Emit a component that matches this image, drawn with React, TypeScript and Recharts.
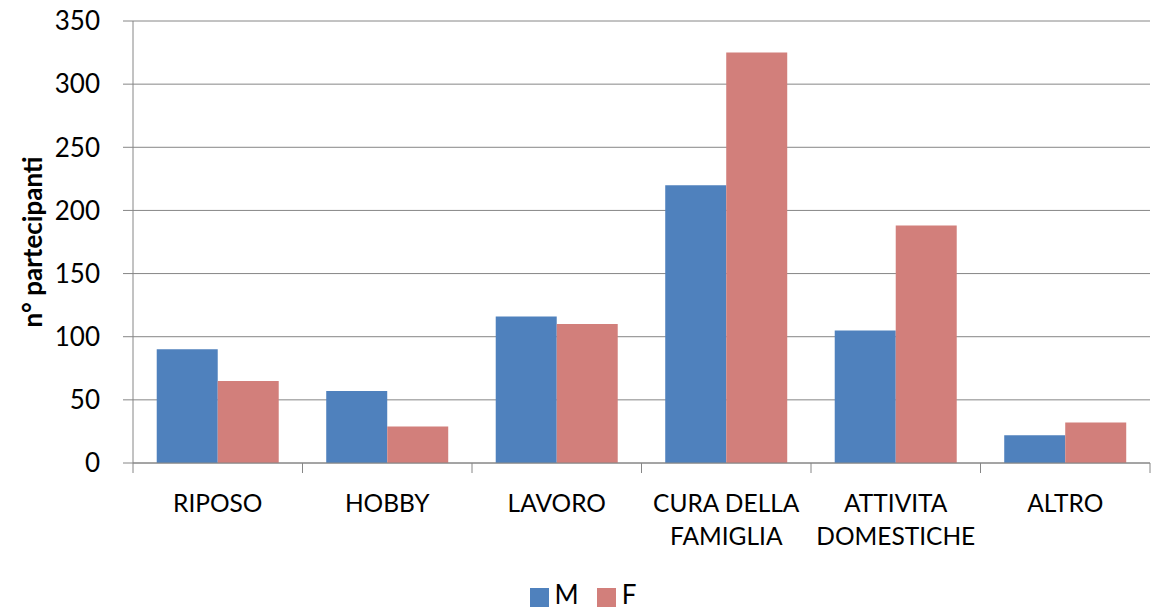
import React from 'react';
import { BarChart, Bar, XAxis, YAxis, CartesianGrid, Legend } from 'recharts';

const categories = ['RIPOSO', 'HOBBY', 'LAVORO', 'CURA DELLA\nFAMIGLIA', 'ATTIVITA\nDOMESTICHE', 'ALTRO'];
const maleValues = [90, 57, 116, 220, 105, 22];
const femaleValues = [65, 29, 110, 325, 188, 32];
const yTicks = [0, 50, 100, 150, 200, 250, 300, 350];

const series = [
  { key: 'M', color: '#4F81BD' },
  { key: 'F', color: '#D27F7B' },
];

const data = categories.map((c, i) => ({ name: c, M: maleValues[i], F: femaleValues[i] }));

const FONT = 'Lato, "Liberation Sans", sans-serif';
const W = 1153;
const H = 609;
const PLOT_LEFT = 133;
const PLOT_RIGHT = 3;
const BAND = (W - PLOT_LEFT - PLOT_RIGHT) / categories.length;

const CategoryTick = (props: any) => {
  const { x, y, payload, index } = props;
  const lines = String(payload.value).split('\n');
  const left = x - BAND / 2;
  return (
    <g>
      <line x1={left} x2={left} y1={y} y2={y + 10} stroke="#868686" />
      {index === categories.length - 1 && (
        <line x1={x + BAND / 2} x2={x + BAND / 2} y1={y} y2={y + 10} stroke="#868686" />
      )}
      <text x={x} y={y} textAnchor="middle" fontFamily={FONT} fontSize={24.5} fill="#000">
        {lines.map((l, i) => (
          <tspan key={i} x={x} dy={i === 0 ? 49 : 33}>{l}</tspan>
        ))}
      </text>
    </g>
  );
};

const LegendContent = () => (
  <div style={{ display: 'flex', justifyContent: 'center', alignItems: 'center', fontFamily: FONT, fontSize: 26, color: '#000', height: 30, paddingLeft: 34 }}>
    {series.map((s) => (
      <div key={s.key} style={{ display: 'flex', alignItems: 'center', marginRight: 18 }}>
        <div style={{ width: 19, height: 19, background: s.color, marginRight: 6, marginTop: 6 }} />
        <span>{s.key}</span>
      </div>
    ))}
  </div>
);

const App: React.FC = () => {
  return (
    <div style={{ position: 'absolute', left: 0, top: 0, width: W, height: H, background: '#fff' }}>
      <BarChart
        width={W}
        height={H}
        data={data}
        margin={{ top: 21, right: PLOT_RIGHT, left: 0, bottom: 0 }}
        barCategoryGap="14%"
        barGap={0}
        style={{ fontFamily: FONT }}
      >
        <CartesianGrid vertical={false} stroke="#868686" />
        <XAxis
          dataKey="name"
          height={116}
          interval={0}
          tickLine={false}
          tickSize={0}
          tickMargin={0}
          axisLine={{ stroke: '#868686' }}
          tick={<CategoryTick />}
        />
        <YAxis
          width={PLOT_LEFT}
          domain={[0, 350]}
          ticks={yTicks}
          interval={0}
          tickSize={10}
          tickMargin={23}
          axisLine={{ stroke: '#868686' }}
          tickLine={{ stroke: '#868686' }}
          tick={{ fontSize: 26, fill: '#000', fontFamily: FONT }}
          label={{
            content: (p: any) => {
              const vb = p.viewBox;
              const cx = 32;
              const cy = vb.y + vb.height / 2;
              return (
                <text
                  x={cx}
                  y={cy}
                  textAnchor="middle"
                  dominantBaseline="central"
                  transform={`rotate(-90, ${cx}, ${cy})`}
                  fontFamily={FONT}
                  fontSize={26}
                  fontWeight="bold"
                  fill="#000"
                >
                  n° partecipanti
                </text>
              );
            },
          }}
        />
        <Legend verticalAlign="bottom" height={30} content={<LegendContent />} />
        {series.map((s) => (
          <Bar key={s.key} dataKey={s.key} name={s.key} fill={s.color} isAnimationActive={false} />
        ))}
      </BarChart>
    </div>
  );
};

export default App;
